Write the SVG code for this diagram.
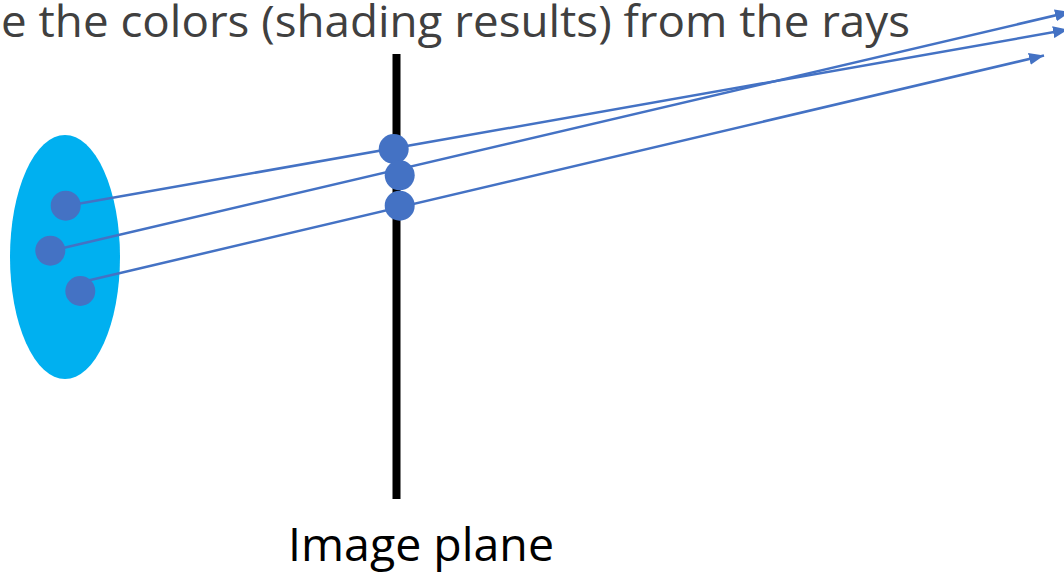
<svg xmlns="http://www.w3.org/2000/svg" width="1064" height="576" viewBox="0 0 1064 576">
  <style>
    .ray { stroke: #4472C4; stroke-width: 2.5; fill: none; marker-end: url(#arrow); }
    .dot { fill: #4472C4; }
    .label { font-family: "Open Sans", "Noto Sans", "Liberation Sans", sans-serif; }
  </style>
  <defs>
    <marker id="arrow" markerUnits="userSpaceOnUse" markerWidth="16" markerHeight="12" refX="15" refY="6" orient="auto">
      <path d="M0,0 L15,6 L0,12 z" fill="#4472C4"/>
    </marker>
  </defs>
  <rect width="1064" height="576" fill="#ffffff"/>
  <text class="label" x="1" y="37" font-size="43" fill="#404040" textLength="909" lengthAdjust="spacingAndGlyphs">e the colors (shading results) from the rays</text>
  <g id="object">
    <ellipse cx="65" cy="257" rx="55" ry="122" fill="#00B0F0"/>
  </g>
  <g id="image-plane">
    <rect x="392.5" y="54" width="8" height="445" fill="#000000"/>
    <text class="label" x="288" y="561" font-size="46" fill="#000000" textLength="266" lengthAdjust="spacingAndGlyphs">Image plane</text>
  </g>
  <g id="connectors">
    <line class="ray" x1="65.7" y1="206" x2="1068" y2="29.6"/>
    <line class="ray" x1="50.3" y1="251" x2="1070" y2="12"/>
    <line class="ray" x1="82" y1="282" x2="1044" y2="55.5"/>
  </g>
  <g id="object-points">
    <circle class="dot" cx="65.7" cy="205.7" r="15"/>
    <circle class="dot" cx="50.3" cy="250.7" r="15"/>
    <circle class="dot" cx="80.3" cy="291" r="15"/>
  </g>
  <g id="pixel-points">
    <circle class="dot" cx="393.7" cy="149" r="15"/>
    <circle class="dot" cx="399.7" cy="175.3" r="15"/>
    <circle class="dot" cx="399.7" cy="205.7" r="15"/>
  </g>
</svg>
